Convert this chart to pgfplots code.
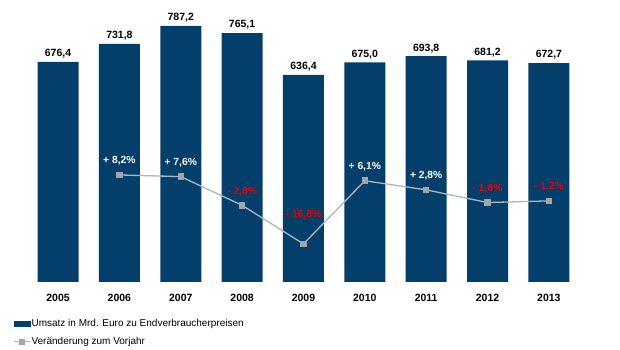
\documentclass[border=0pt]{standalone}
\usepackage{pgfplots}
\pgfplotsset{compat=1.18}
\usepackage{fontspec}
\setmainfont{Liberation Sans}
\definecolor{navy}{RGB}{4,62,106}
\definecolor{linegray}{RGB}{172,182,194}
\definecolor{markgray}{RGB}{160,166,174}
\definecolor{negred}{RGB}{235,0,0}
\begin{document}
\begin{tikzpicture}
\useasboundingbox (0,0) rectangle (620pt,350pt);
\begin{axis}[
  at={(20pt,68pt)}, anchor=south west, scale only axis,
  width=570pt, height=261pt,
  xmin=-0.62, xmax=8.67, ymin=0, ymax=802,
  axis line style={draw=none}, tick style={draw=none},
  ytick=\empty, xtick={0,...,8},
  xticklabels={2005,2006,2007,2008,2009,2010,2011,2012,2013},
  xticklabel style={font=\bfseries\fontsize{10.5}{12}\selectfont, yshift=-4pt},
  ybar, bar width=41pt,
  nodes near coords,
  nodes near coords style={font=\bfseries\fontsize{10.5}{12}\selectfont, text=black,
    /pgf/number format/.cd, fixed, fixed zerofill, precision=1, use comma, assume math mode=true},
]
\addplot[fill=navy, draw=none] coordinates {
  (0,676.4) (1,731.8) (2,787.2) (3,765.1) (4,636.4) (5,675.0) (6,693.8) (7,681.2) (8,672.7)};
\end{axis}
\begin{axis}[
  at={(20pt,68pt)}, anchor=south west, scale only axis,
  width=570pt, height=261pt,
  xmin=-0.62, xmax=8.67, ymin=-30.6, ymax=64,
  hide axis,
  legend style={draw=none, fill=none, at={(-0.012,-0.14)}, anchor=north west,
    font=\fontsize{10}{12}\selectfont, row sep=7pt, inner sep=0pt,
    nodes={inner sep=1pt}},
  legend cell align=left,
]
\addlegendimage{legend image code/.code={\fill[navy] (0pt,-2.5pt) rectangle (16pt,2.5pt);}}
\addlegendentry{Umsatz in Mrd. Euro zu Endverbraucherpreisen}
\addplot[color=linegray, line width=1.3pt, mark=square*, mark size=2.6pt,
  mark options={fill=markgray, draw=markgray},
  legend image code/.code={\draw[linegray, line width=1.2pt] (0pt,0pt)--(16pt,0pt);
    \fill[markgray] (6pt,-2pt) rectangle (10pt,2pt);}]
  coordinates {(1,8.2) (2,7.6) (3,-2.8) (4,-16.8) (5,6.1) (6,2.8) (7,-1.8) (8,-1.2)};
\addlegendentry{Veränderung zum Vorjahr}
\addplot[draw=none, mark=none, point meta=explicit symbolic,
  nodes near coords, forget plot,
  nodes near coords style={font=\bfseries\fontsize{10.3}{12}\selectfont, text=white, anchor=center, yshift=14pt}]
  coordinates {(1,8.2) [{+ 8,2\%}] (2,7.6) [{+ 7,6\%}] (5,6.1) [{+ 6,1\%}] (6,2.8) [{+ 2,8\%}]};
\addplot[draw=none, mark=none, point meta=explicit symbolic,
  nodes near coords, forget plot,
  nodes near coords style={font=\bfseries\fontsize{10.3}{12}\selectfont, text=negred, anchor=center, yshift=14pt}]
  coordinates {(3,-2.8) [{- 2,8\%}] (7,-1.8) [{- 1,8\%}] (8,-1.2) [{- 1,2\%}]};
\addplot[draw=none, mark=none, point meta=explicit symbolic,
  nodes near coords, forget plot,
  nodes near coords style={font=\bfseries\fontsize{10.3}{12}\selectfont, text=negred, anchor=center, yshift=29pt}]
  coordinates {(4,-16.8) [{- 16,8\%}]};
\end{axis}
\end{tikzpicture}
\end{document}
